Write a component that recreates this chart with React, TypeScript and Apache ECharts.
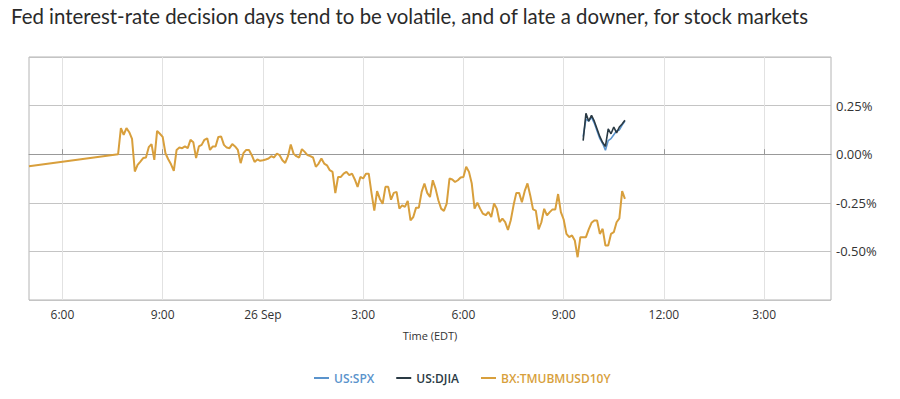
import React, { useEffect, useRef } from "react";
import * as echarts from "echarts";

const TITLE =
  "Fed interest-rate decision days tend to be volatile, and of late a downer, for stock markets";

// x axis: hours since 25 Sep 00:00 (EDT)
const X_MIN = 17;
const X_MAX = 41;
const X_TICKS = [18, 21, 24, 27, 30, 33, 36, 39];
const Y_MIN = -0.75;
const Y_MAX = 0.5;
const Y_STEP = 0.25;

const SERIES_NAMES = ["US:SPX", "US:DJIA", "BX:TMUBMUSD10Y"];
const SERIES_COLORS = ["#5a93cc", "#2a3a44", "#d89f3c"];

// BX:TMUBMUSD10Y: prior level, then 5-minute readings from 19:40
const goldPrior = [17, -0.062];
const GOLD_START_HOUR = 17 + 160 / 60;
const GOLD_STEP_MIN = 5;
const goldValues = [
  0.0, 0.134, 0.1, 0.134, 0.113, 0.079, -0.089, -0.055, -0.038, -0.02,
  -0.017, 0.036, 0.052, -0.029, 0.12, 0.105, 0.089, 0.005, -0.026, -0.052,
  -0.086, 0.022, 0.034, 0.031, 0.04, 0.031, 0.074, 0.062, -0.02, 0.04,
  0.048, 0.074, 0.082, 0.022, 0.04, 0.04, 0.089, 0.091, 0.048, 0.034,
  0.031, 0.052, 0.04, 0.022, -0.046, 0.005, 0.022, 0.022, -0.005, -0.04,
  -0.027, -0.034, -0.031, -0.027, -0.022, -0.01, -0.017, 0.003, -0.005, -0.031,
  -0.045, -0.01, 0.05, 0.003, -0.01, -0.017, 0.026, 0.012, -0.005, -0.01,
  -0.017, -0.065, -0.048, -0.022, -0.048, -0.057, -0.082, -0.091, -0.2, -0.117,
  -0.117, -0.1, -0.091, -0.108, -0.1, -0.13, -0.168, -0.117, -0.125, -0.1,
  -0.1, -0.2, -0.29, -0.19, -0.23, -0.255, -0.168, -0.168, -0.234, -0.199,
  -0.194, -0.28, -0.263, -0.271, -0.24, -0.34, -0.323, -0.275, -0.275, -0.194,
  -0.151, -0.199, -0.22, -0.134, -0.177, -0.237, -0.28, -0.292, -0.254, -0.125,
  -0.13, -0.143, -0.134, -0.12, -0.117, -0.065, -0.091, -0.151, -0.28, -0.25,
  -0.28, -0.306, -0.314, -0.297, -0.323, -0.254, -0.28, -0.349, -0.331, -0.349,
  -0.39, -0.34, -0.263, -0.199, -0.199, -0.247, -0.19, -0.15, -0.212, -0.284,
  -0.29, -0.387, -0.35, -0.281, -0.315, -0.298, -0.284, -0.284, -0.205, -0.298,
  -0.336, -0.41, -0.427, -0.418, -0.444, -0.53, -0.427, -0.427, -0.427, -0.387,
  -0.353, -0.341, -0.341, -0.41, -0.384, -0.47, -0.47, -0.41, -0.401, -0.35,
  -0.33, -0.19, -0.23,
];

// US indexes: 5-minute readings from 9:35 on 26 Sep
const INDEX_START_HOUR = 33 + 35 / 60;
const INDEX_STEP_MIN = 5;
const spxValues = [
  0.09, 0.18, 0.17, 0.19, 0.16, 0.12, 0.08, 0.055, 0.02, 0.07, 0.08, 0.1,
  0.12, 0.125, 0.15, 0.17,
];
const djiaValues = [
  0.07, 0.21, 0.17, 0.2, 0.17, 0.13, 0.09, 0.06, 0.04, 0.13, 0.105, 0.14,
  0.11, 0.14, 0.155, 0.175,
];

function toPairs(start: number, stepMin: number, vals: number[]) {
  return vals.map((v, i) => [start + (i * stepMin) / 60, v]);
}

function xLabel(v: number) {
  const h = Math.round(v) % 24;
  if (h === 0) return "26 Sep";
  const h12 = h % 12 === 0 ? 12 : h % 12;
  return h12 + ":00";
}

export default function App() {
  const ref = useRef<HTMLDivElement>(null);
  useEffect(() => {
    if (!ref.current) return;
    const chart = echarts.init(ref.current, undefined, { renderer: "svg" });
    const goldData = [goldPrior, ...toPairs(GOLD_START_HOUR, GOLD_STEP_MIN, goldValues)];
    chart.setOption({
      animation: false,
      backgroundColor: "#ffffff",
      title: {
        text: TITLE,
        left: 6,
        top: 1,
        textStyle: {
          fontFamily: "Lato",
          fontSize: 20.4,
          fontWeight: "normal",
          color: "#2a2a2a",
        },
      },
      grid: {
        left: 29,
        top: 57,
        width: 802,
        height: 243,
        show: true,
        borderColor: "#b4b4b4",
        borderWidth: 1,
        containLabel: false,
      },
      legend: {
        left: 309,
        top: 367,
        icon: "rect",
        itemWidth: 15,
        itemHeight: 2,
        itemGap: 22,
        textStyle: { fontFamily: "Open Sans", fontSize: 12, fontWeight: 600 },
        data: SERIES_NAMES.map((n, i) => ({
          name: n,
          textStyle: { color: SERIES_COLORS[i] },
        })),
      },
      xAxis: {
        type: "value",
        min: X_MIN,
        max: X_MAX,
        name: "Time (EDT)",
        nameLocation: "middle",
        nameGap: 30,
        nameTextStyle: { fontFamily: "Open Sans", fontSize: 11, color: "#333" },
        axisLine: { show: true, lineStyle: { color: "#999" } },
        axisTick: {
          show: true,
          inside: true,
          length: 5,
          customValues: X_TICKS,
          lineStyle: { color: "#999" },
        },
        axisLabel: {
          customValues: X_TICKS,
          formatter: xLabel,
          margin: 8,
          fontFamily: "Open Sans",
          fontSize: 12,
          color: "#333",
        },
        splitLine: { show: true, lineStyle: { color: "#e2e2e2" } },
      },
      yAxis: {
        type: "value",
        position: "right",
        min: Y_MIN,
        max: Y_MAX,
        interval: Y_STEP,
        axisLine: { show: false },
        axisTick: { show: false },
        axisLabel: {
          margin: 5,
          fontFamily: "Open Sans",
          fontSize: 13,
          color: "#333",
          formatter: (v: number) =>
            v < Y_MIN + 1e-6 || v > Y_MAX - 1e-6 ? "" : v.toFixed(2) + "%",
        },
        splitLine: { show: true, lineStyle: { color: "#c4c4c4" } },
      },
      series: [
        {
          name: SERIES_NAMES[0],
          type: "line",
          showSymbol: false,
          symbol: "none",
          color: SERIES_COLORS[0],
          lineStyle: { width: 1.6, color: SERIES_COLORS[0] },
          data: toPairs(INDEX_START_HOUR, INDEX_STEP_MIN, spxValues),
        },
        {
          name: SERIES_NAMES[1],
          type: "line",
          showSymbol: false,
          symbol: "none",
          color: SERIES_COLORS[1],
          lineStyle: { width: 1.6, color: SERIES_COLORS[1] },
          data: toPairs(INDEX_START_HOUR, INDEX_STEP_MIN, djiaValues),
        },
        {
          name: SERIES_NAMES[2],
          type: "line",
          showSymbol: false,
          symbol: "none",
          color: SERIES_COLORS[2],
          lineStyle: { width: 2, color: SERIES_COLORS[2] },
          data: goldData,
        },
      ],
    });
    return () => chart.dispose();
  }, []);
  return (
    <div
      ref={ref}
      style={{ position: "fixed", left: 0, top: 0, width: 900, height: 399 }}
    />
  );
}
